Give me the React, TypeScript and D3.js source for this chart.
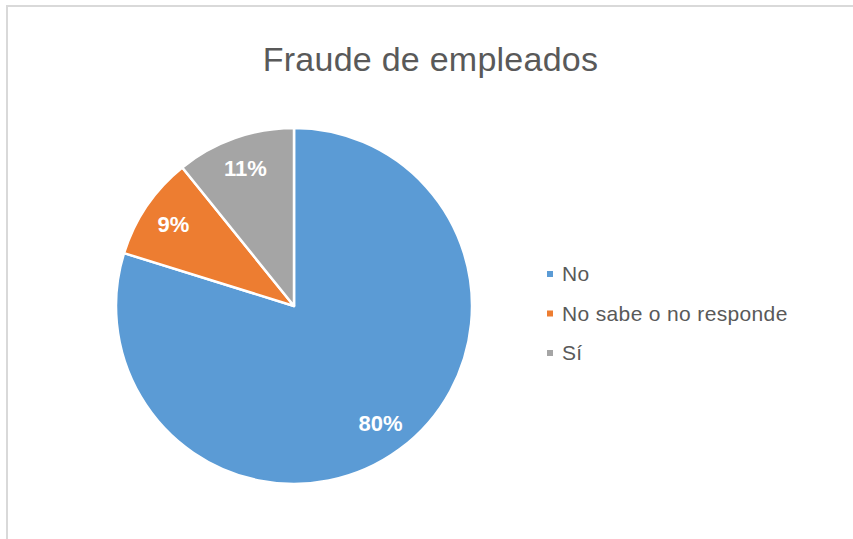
import React from "react";
import * as d3 from "d3";

const title = "Fraude de empleados";
const categories = ["No", "No sabe o no responde", "Sí"];
const values = [79.8, 9.4, 10.8];
const labels = ["80%", "9%", "11%"];
const colors = ["#5B9BD5", "#ED7D31", "#A5A5A5"];

const W = 853;
const H = 539;
const cx = 294;
const cy = 306;
const R = 178;

export default function App() {
  const data = categories.map((c, i) => ({ name: c, value: values[i], label: labels[i], color: colors[i] }));
  const pie = d3.pie<any>().value((d: any) => d.value).sort(null).startAngle(0).endAngle(2 * Math.PI);
  const arcs = pie(data);
  const arcGen = d3.arc<any>().innerRadius(0).outerRadius(R);
  const labelArc = d3.arc<any>().innerRadius(R * 0.82).outerRadius(R * 0.82);
  const legendY = d3.scalePoint<string>().domain(categories).range([274, 353]);

  return (
    <svg
      width={W}
      height={H}
      style={{ position: "absolute", left: 0, top: 0, background: "#fff" }}
      fontFamily="'Liberation Sans', Arial, sans-serif"
    >
      <rect x={0} y={0} width={W} height={H} fill="#ffffff" />
      <line x1={6} y1={6} x2={W} y2={6} stroke="#d9d9d9" strokeWidth={2} />
      <line x1={7} y1={6} x2={7} y2={H} stroke="#d9d9d9" strokeWidth={2} />
      <text x={430.5} y={71} textAnchor="middle" fontSize={34} letterSpacing={0.25} fill="#595959">
        {title}
      </text>
      <g transform={`translate(${cx},${cy})`}>
        {arcs.map((a, i) => (
          <path key={i} d={arcGen(a) as string} fill={a.data.color} stroke="#ffffff" strokeWidth={2.5} strokeLinejoin="round" />
        ))}
        {arcs.map((a, i) => {
          const [lx, ly] = labelArc.centroid(a);
          return (
            <text key={"l" + i} x={lx} y={ly} dy="0.35em" textAnchor="middle" fontSize={22} fontWeight="bold" fill="#ffffff">
              {a.data.label}
            </text>
          );
        })}
      </g>
      {data.map((d) => (
        <g key={d.name} transform={`translate(547,${legendY(d.name)})`}>
          <rect x={0} y={-3} width={6} height={6} fill={d.color} />
          <text x={15} y={0} dy="0.35em" fontSize={21} letterSpacing={0.35} fill="#595959">
            {d.name}
          </text>
        </g>
      ))}
    </svg>
  );
}
